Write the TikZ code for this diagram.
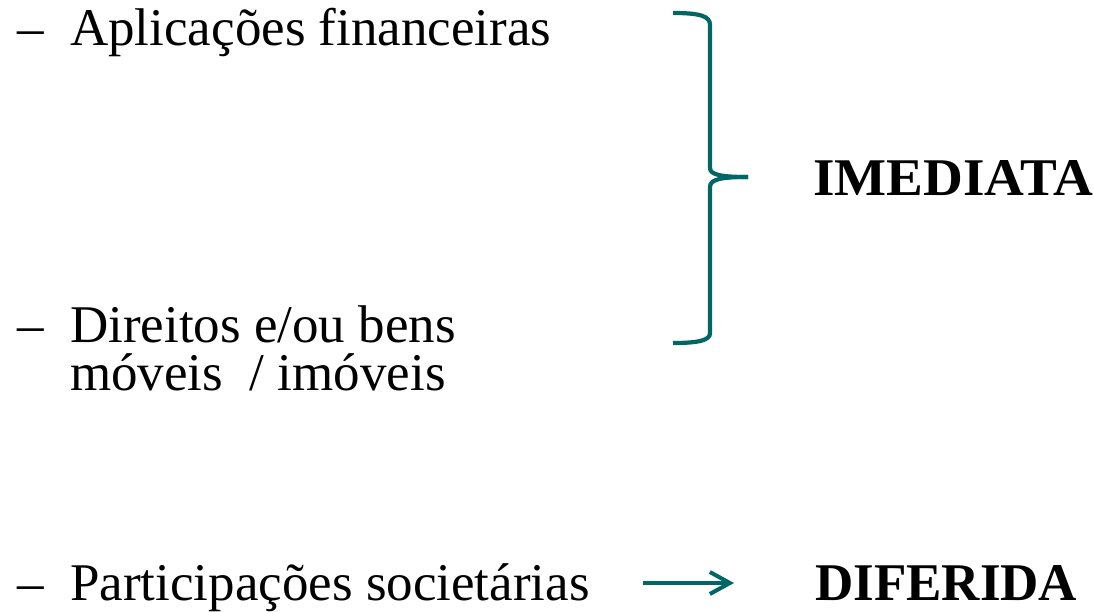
\documentclass[tikz,border=0pt]{standalone}
\usepackage{fontspec}
\setmainfont{Liberation Serif}
\usetikzlibrary{arrows.meta}
\definecolor{verdeazul}{RGB}{0,102,102}
\begin{document}
\begin{tikzpicture}[x=1pt,y=-1pt,
    itemsty/.style={anchor=base west,inner sep=0pt,font=\fontsize{53}{48}\selectfont},
    tipsty/.style={anchor=base west,inner sep=0pt,font=\fontsize{53}{48}\selectfont\bfseries},
    chavesty/.style={color=verdeazul,line width=4.2pt}]
    \useasboundingbox (0,0) rectangle (1094,611);
    % itens
    \node[itemsty] (d0) at (17,45) {–};
    \node[itemsty] (aplic) at (70,45) {Aplicações financeiras};
    \node[itemsty] (d1) at (17,342) {–};
    \node[itemsty] (dir) at (70,342) {Direitos e/ou bens};
    \node[itemsty] (mov) at (70,390) {móveis~ / imóveis};
    \node[itemsty] (d2) at (17,600) {–};
    \node[itemsty] (part) at (70,600) {Participações societárias};
    % tipos
    \node[tipsty] (imed) at (813,195) {\scalebox{1.04}[1]{IMEDIATA}};
    \node[tipsty] (dif) at (815,600) {DIFERIDA};
    % chave
    \draw[chavesty] (673,13) .. controls (700,13) and (710,16) .. (710,25)
    -- (710,168) .. controls (710,175) and (722,177) .. (748,177);
    \draw[chavesty] (748,177) .. controls (722,177) and (710,179) .. (710,187)
    -- (710,333) .. controls (710,340) and (700,343) .. (673,343);
    % seta
    \coordinate (s0) at (643,583);
    \coordinate (s1) at (734,583);
    \draw[-{Straight Barb[length=20pt,width=22pt,line width=4pt]},color=verdeazul,line width=3.5pt] (s0) -- (s1);
\end{tikzpicture}
\end{document}
